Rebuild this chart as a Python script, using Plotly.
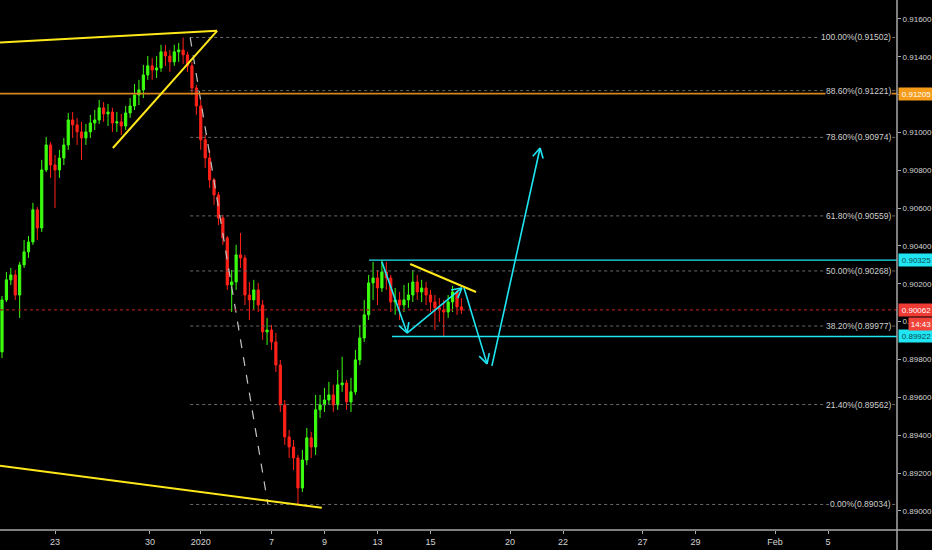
import math
import plotly.graph_objects as go

# ---- 4H bars (x = bar number) ----
bars = list(range(105))

opens = [0.89840, 0.90115, 0.90221, 0.90247, 0.90141, 0.90300, 0.90369, 0.90421, 0.90591, 0.90495,
         0.90802, 0.90934, 0.90828, 0.90802, 0.90865, 0.90934, 0.91066, 0.91040, 0.91003, 0.90971,
         0.91003, 0.91050, 0.91066, 0.91130, 0.91098, 0.91108, 0.91050, 0.91056, 0.91034, 0.91103,
         0.91140, 0.91198, 0.91225, 0.91304, 0.91352, 0.91330, 0.91341, 0.91426, 0.91404, 0.91373,
         0.91426, 0.91436, 0.91410, 0.91352, 0.91235, 0.91140, 0.90961, 0.90865, 0.90749, 0.90670,
         0.90548, 0.90443, 0.90194, 0.90210, 0.90353, 0.90337, 0.90141, 0.90115, 0.90168, 0.90088,
         0.89946, 0.89956, 0.89893, 0.89771, 0.89560, 0.89391, 0.89338, 0.89280, 0.89121, 0.89269,
         0.89386, 0.89338, 0.89534, 0.89560, 0.89586, 0.89613, 0.89560, 0.89666, 0.89676, 0.89576,
         0.89629, 0.89798, 0.89914, 0.90036, 0.90205, 0.90231, 0.90178, 0.90263, 0.90231, 0.90104,
         0.90115, 0.90088, 0.90115, 0.90141, 0.90210, 0.90157, 0.90178, 0.90141, 0.90104, 0.90073,
         0.90062, 0.90051, 0.90104, 0.90157, 0.90078]

highs = [0.90136, 0.90263, 0.90284, 0.90273, 0.90316, 0.90432, 0.90453, 0.90628, 0.90606, 0.90855,
         0.90976, 0.90950, 0.90881, 0.90908, 0.90971, 0.91103, 0.91108, 0.91077, 0.91056, 0.91045,
         0.91093, 0.91119, 0.91172, 0.91161, 0.91151, 0.91130, 0.91108, 0.91098, 0.91140, 0.91182,
         0.91256, 0.91278, 0.91357, 0.91404, 0.91394, 0.91404, 0.91463, 0.91463, 0.91436, 0.91463,
         0.91473, 0.91502, 0.91426, 0.91373, 0.91251, 0.91172, 0.90987, 0.90908, 0.90760, 0.90686,
         0.90564, 0.90453, 0.90273, 0.90406, 0.90469, 0.90353, 0.90210, 0.90221, 0.90205, 0.90115,
         0.90020, 0.89983, 0.89940, 0.89798, 0.89586, 0.89428, 0.89375, 0.89296, 0.89322, 0.89438,
         0.89417, 0.89613, 0.89613, 0.89650, 0.89682, 0.89666, 0.89745, 0.89814, 0.89692, 0.89703,
         0.89851, 0.89983, 0.90115, 0.90247, 0.90316, 0.90273, 0.90325, 0.90316, 0.90247, 0.90178,
         0.90157, 0.90194, 0.90205, 0.90273, 0.90247, 0.90221, 0.90210, 0.90168, 0.90141, 0.90125,
         0.90115, 0.90141, 0.90189, 0.90168, 0.90125]

lows = [0.89808, 0.90104, 0.90194, 0.90115, 0.90020, 0.90284, 0.90337, 0.90406, 0.90432, 0.90474,
        0.90791, 0.90760, 0.90601, 0.90760, 0.90828, 0.90908, 0.90971, 0.90934, 0.90855, 0.90934,
        0.90971, 0.91013, 0.91045, 0.91056, 0.91034, 0.91003, 0.91003, 0.90987, 0.91013, 0.91077,
        0.91119, 0.91145, 0.91182, 0.91278, 0.91278, 0.91288, 0.91320, 0.91352, 0.91320, 0.91352,
        0.91373, 0.91362, 0.91320, 0.91198, 0.91093, 0.90908, 0.90813, 0.90707, 0.90617, 0.90511,
        0.90406, 0.90168, 0.90051, 0.90168, 0.90284, 0.90088, 0.90009, 0.90062, 0.90051, 0.89904,
        0.89877, 0.89851, 0.89734, 0.89523, 0.89349, 0.89280, 0.89216, 0.89034, 0.89100, 0.89243,
        0.89280, 0.89296, 0.89491, 0.89523, 0.89560, 0.89523, 0.89534, 0.89629, 0.89534, 0.89523,
        0.89613, 0.89771, 0.89893, 0.90009, 0.90115, 0.90088, 0.90157, 0.90168, 0.90051, 0.90036,
        0.90009, 0.90051, 0.90073, 0.90104, 0.90115, 0.90104, 0.90088, 0.90051, 0.89956, 0.89999,
        0.89922, 0.90020, 0.90051, 0.90036, 0.90041]

closes = [0.90115, 0.90221, 0.90247, 0.90141, 0.90300, 0.90369, 0.90421, 0.90591, 0.90495, 0.90802,
          0.90934, 0.90828, 0.90802, 0.90865, 0.90934, 0.91066, 0.91040, 0.91003, 0.90971, 0.91003,
          0.91050, 0.91066, 0.91130, 0.91098, 0.91108, 0.91050, 0.91056, 0.91034, 0.91103, 0.91140,
          0.91198, 0.91225, 0.91304, 0.91352, 0.91330, 0.91341, 0.91426, 0.91404, 0.91373, 0.91426,
          0.91436, 0.91410, 0.91352, 0.91235, 0.91140, 0.90961, 0.90865, 0.90749, 0.90670, 0.90548,
          0.90443, 0.90194, 0.90210, 0.90353, 0.90337, 0.90141, 0.90115, 0.90168, 0.90088, 0.89946,
          0.89956, 0.89893, 0.89771, 0.89560, 0.89391, 0.89338, 0.89280, 0.89121, 0.89269, 0.89386,
          0.89338, 0.89534, 0.89560, 0.89586, 0.89613, 0.89560, 0.89666, 0.89676, 0.89576, 0.89629,
          0.89798, 0.89914, 0.90036, 0.90205, 0.90231, 0.90178, 0.90263, 0.90231, 0.90104, 0.90115,
          0.90088, 0.90115, 0.90141, 0.90210, 0.90157, 0.90178, 0.90141, 0.90104, 0.90073, 0.90062,
          0.90051, 0.90104, 0.90157, 0.90078, 0.90062]

# ---- time axis labels (bar positions) ----
date_ticks = [12, 33.5, 45, 61, 73, 85, 97, 115, 127, 145, 157, 175, 187]
date_labels = ["23", "30", "2020", "7", "9", "13", "15", "20", "22", "27", "29", "Feb", "5"]

price_ticks = [0.890, 0.892, 0.894, 0.896, 0.898, 0.900, 0.902, 0.904,
               0.906, 0.908, 0.910, 0.912, 0.914, 0.916]

# ---- Fibonacci retracement ----
fib_start_bar = 42.6
fib_ratios = ["100.00%", "88.60%", "78.60%", "61.80%", "50.00%", "38.20%", "21.40%", "0.00%"]
fib_prices = [0.91502, 0.91221, 0.90974, 0.90559, 0.90268, 0.89977, 0.89562, 0.89034]

# ---- horizontal levels ----
alert_level = 0.91205
last_price = 0.90062
range_top, range_top_from = 0.90325, 83.1
range_bottom, range_bottom_from = 0.89922, 88.3

# ---- trend lines: (bar, price) pairs ----
upper_trend = [(-0.45, 0.91475), (48.7, 0.91537)]
wedge_support = [(25.1, 0.90918), (48.7, 0.91537)]
lower_trend = [(-0.45, 0.89238), (72.4, 0.89016)]
fib_diagonal = [(42.6, 0.91502), (60.2, 0.89034)]
triangle_top = [(92.4, 0.90305), (107.3, 0.90157)]

# projected path (arrows)
projection = [
    [(86.0, 0.90316), (91.7, 0.89940)],
    [(91.7, 0.89940), (104.1, 0.90178)],
    [(104.6, 0.90178), (109.8, 0.89777)],
    [(110.9, 0.89766), (121.8, 0.90918)],
]

X_RANGE = [-0.45, 202.6]
Y_RANGE = [0.88899, 0.91700]
W, H = 932, 550
M = dict(l=0, r=35, t=0, b=20, autoexpand=False)
PW, PH = W - M["l"] - M["r"], H - M["t"] - M["b"]

GREEN = "#3bff0f"
RED = "#ff2119"
YELLOW = "#ffe81a"
CYAN = "#1fe6f2"
LABEL_FONT = "Liberation Sans, Arial, sans-serif"


def to_px(b, p):
    return ((b - X_RANGE[0]) / (X_RANGE[1] - X_RANGE[0]) * PW,
            (Y_RANGE[1] - p) / (Y_RANGE[1] - Y_RANGE[0]) * PH)


def to_data(px, py):
    return (X_RANGE[0] + px / PW * (X_RANGE[1] - X_RANGE[0]),
            Y_RANGE[1] - py / PH * (Y_RANGE[1] - Y_RANGE[0]))


fig = go.Figure()
fig.add_trace(go.Candlestick(
    x=bars, open=opens, high=highs, low=lows, close=closes,
    increasing=dict(line=dict(color=GREEN, width=1), fillcolor=GREEN),
    decreasing=dict(line=dict(color=RED, width=1), fillcolor=RED),
    whiskerwidth=0, showlegend=False, hoverinfo="skip",
))

shapes = []


def seg(p0, p1, color, width=1.0, dash="solid", xref="x", yref="y"):
    shapes.append(dict(type="line", xref=xref, yref=yref,
                       x0=p0[0], y0=p0[1], x1=p1[0], y1=p1[1],
                       line=dict(color=color, width=width, dash=dash)))


# Fib levels (dotted) with labels
for ratio, price in zip(fib_ratios, fib_prices):
    seg((fib_start_bar, price), (X_RANGE[1], price), "#6a6a6a", 1, "dot")

seg(fib_diagonal[0], fib_diagonal[1], "#c4c4c4", 1.2, "dash")

# horizontal levels
seg((X_RANGE[0], alert_level), (X_RANGE[1], alert_level), "#d8861c", 1.6)
seg((X_RANGE[0], last_price), (X_RANGE[1], last_price), "#a3171a", 1.2, "dot")
seg((range_top_from, range_top), (X_RANGE[1], range_top), CYAN, 1.4)
seg((range_bottom_from, range_bottom), (X_RANGE[1], range_bottom), CYAN, 1.4)

# trend lines
for line in (upper_trend, wedge_support, lower_trend, triangle_top):
    seg(line[0], line[1], YELLOW, 2)

# projected path with open arrow heads
for p0, p1 in projection:
    seg(p0, p1, CYAN, 1.6)
    x0, y0 = to_px(*p0)
    x1, y1 = to_px(*p1)
    ang = math.atan2(y0 - y1, x0 - x1)
    for da in (-0.5, 0.5):
        wx = x1 + 11 * math.cos(ang + da)
        wy = y1 + 11 * math.sin(ang + da)
        seg(p1, to_data(wx, wy), CYAN, 1.6)

# axis borders extending into the margins
shapes.append(dict(type="line", xref="paper", yref="paper", x0=0, x1=W / PW, y0=0, y1=0,
                   line=dict(color="#a9a9a9", width=1.5)))
shapes.append(dict(type="line", xref="paper", yref="paper", x0=1, x1=1, y0=-M["b"] / PH, y1=1,
                   line=dict(color="#a9a9a9", width=1.5)))

annotations = []
for ratio, price in zip(fib_ratios, fib_prices):
    annotations.append(dict(
        xref="paper", yref="y", x=(PW - 5) / PW, y=price, xanchor="right", yanchor="middle",
        text=f"{ratio}({price:.5f})", showarrow=False, bgcolor="#000000", borderpad=0,
        font=dict(family=LABEL_FONT, size=8.5, color="#cfcfcf")))

# price tags on the right scale
tags = [
    (alert_level, "#f59d1b", "#ffffff"),
    (range_top, CYAN, "#0c4a52"),
    (last_price, "#ef3b33", "#ffffff"),
    (range_bottom, CYAN, "#0c4a52"),
]
for price, bg, fg in tags:
    annotations.append(dict(
        xref="paper", yref="y", x=1, xshift=1, y=price, xanchor="left", yanchor="middle",
        text=f"{price:.5f}", showarrow=False, bgcolor=bg, width=33, height=10, borderpad=1,
        font=dict(family=LABEL_FONT, size=8, color=fg)))
annotations.append(dict(
    xref="paper", yref="y", x=(PW + 11) / PW, y=last_price, yshift=-14, xanchor="left", yanchor="middle",
    text="14:43", showarrow=False, bgcolor="#f0443a", width=22, height=10, borderpad=1,
    font=dict(family=LABEL_FONT, size=8, color="#ffffff")))

fig.update_layout(
    width=W, height=H, margin=M,
    paper_bgcolor="#000000", plot_bgcolor="#000000",
    shapes=shapes, annotations=annotations,
    showlegend=False,
    xaxis=dict(range=X_RANGE, rangeslider=dict(visible=False), showgrid=False, zeroline=False,
               tickvals=date_ticks, ticktext=date_labels, ticks="outside", ticklen=3,
               tickcolor="#a9a9a9", tickfont=dict(family=LABEL_FONT, size=9, color="#d4d4d4"),
               automargin=False, fixedrange=True),
    yaxis=dict(range=Y_RANGE, side="right", showgrid=False, zeroline=False,
               tickvals=price_ticks, tickformat=".5f", ticks="outside", ticklen=3,
               tickcolor="#a9a9a9", tickfont=dict(family=LABEL_FONT, size=8, color="#d4d4d4"),
               automargin=False, fixedrange=True),
)

fig.write_html("out.html")
